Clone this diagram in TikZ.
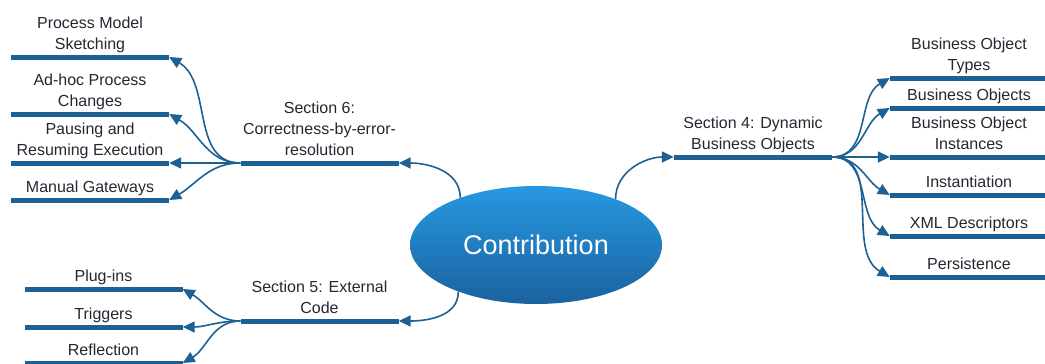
\documentclass[tikz,border=0pt]{standalone}
\usepackage{fontspec}
\setmainfont{Liberation Sans}
\usetikzlibrary{arrows.meta,positioning,shapes.geometric}
\definecolor{barblue}{RGB}{29,96,147}
\definecolor{topblue}{RGB}{38,152,226}
\definecolor{botblue}{RGB}{27,98,158}
\definecolor{txtgray}{RGB}{34,40,49}

\begin{document}
\begin{tikzpicture}[x=1pt,y=1pt]
\tikzstyle{bar} = [rectangle, fill=barblue, minimum width=158pt,
minimum height=5pt, inner sep=0pt]
\tikzstyle{topic} = [text=txtgray, font=\fontsize{16}{21}\selectfont,
align=center, inner sep=0pt, text depth=0pt]
\tikzstyle{core} = [ellipse, top color=topblue, bottom color=botblue,
minimum width=252pt, minimum height=118pt, text=white,
font=\fontsize{27}{30}\selectfont]
\tikzstyle{line} = [draw=barblue, line width=1.6pt, -{Triangle[length=12pt,width=11pt]}];
\useasboundingbox (0,0) rectangle (1045,-364);

% centre
\node [core] (contrib) at (536,-245) {Contribution};
% section bars
\node [bar] (s6) at (319.5,-163) {};
\node [bar] (s5) at (319.5,-321) {};
\node [bar] (s4) at (753,-157) {};
% section 6 leaves
\node [bar] (pms) at (90,-57) {};
\node [bar] (adhoc) at (90,-114) {};
\node [bar] (pause) at (90,-163) {};
\node [bar] (gates) at (90,-200) {};
% section 5 leaves
\node [bar] (plug) at (103.5,-289) {};
\node [bar] (trig) at (103.5,-327) {};
\node [bar] (refl) at (103.5,-363) {};
% section 4 leaves
\node [bar] (types) at (969,-78) {};
\node [bar] (objs) at (969,-108) {};
\node [bar] (inst) at (969,-157) {};
\node [bar] (instn) at (969,-195) {};
\node [bar] (xml) at (969,-236) {};
\node [bar] (pers) at (969,-277) {};

% texts
\node [topic, above=4.5pt of s6] (s6Text) {Section 6:\\Correctness-by-error-\\resolution};
\node [topic, above=4.5pt of s5] (s5Text) {Section 5: External\\Code};
\node [topic, above=4.5pt of s4] (s4Text) {Section 4: Dynamic\\Business Objects};
\node [topic, above=4.5pt of pms] (pmsText) {Process Model\\Sketching};
\node [topic, above=4.5pt of adhoc] (adhocText) {Ad-hoc Process\\Changes};
\node [topic, above=4.5pt of pause] (pauseText) {Pausing and\\Resuming Execution};
\node [topic, above=4.5pt of gates] (gatesText) {Manual Gateways};
\node [topic, above=4.5pt of plug] (plugText) {Plug-ins};
\node [topic, above=4.5pt of trig] (trigText) {Triggers};
\node [topic, above=4.5pt of refl] (reflText) {Reflection};
\node [topic, above=4.5pt of types] (typesText) {Business Object\\Types};
\node [topic, above=4.5pt of objs] (objsText) {Business Objects};
\node [topic, above=4.5pt of inst] (instText) {Business Object\\Instances};
\node [topic, above=4.5pt of instn] (instnText) {Instantiation};
\node [topic, above=4.5pt of xml] (xmlText) {XML Descriptors};
\node [topic, above=4.5pt of pers] (persText) {Persistence};

\tikzstyle{every path}=[line]
\path (contrib.148) to[out=90,in=0] (s6.east);
\path (contrib.211) to[out=-90,in=0] (s5.east);
\path (contrib.30) to[out=90,in=180] (s4.west);

\path (s6.west) to[out=180,in=-30] (pms.east);
\path (s6.west) to[out=180,in=-30] (adhoc.east);
\path (s6.west) -- (pause.east);
\path (s6.west) to[out=180,in=30] (gates.east);

\path (s5.west) to[out=180,in=-30] (plug.east);
\path (s5.west) to[out=180,in=0] (trig.east);
\path (s5.west) to[out=180,in=30] (refl.east);

\path (s4.east) to[out=0,in=-150] (types.west);
\path (s4.east) to[out=0,in=-150] (objs.west);
\path (s4.east) -- (inst.west);
\path (s4.east) to[out=0,in=150] (instn.west);
\path (s4.east) to[out=0,in=150] (xml.west);
\path (s4.east) to[out=0,in=150] (pers.west);

\end{tikzpicture}
\end{document}
